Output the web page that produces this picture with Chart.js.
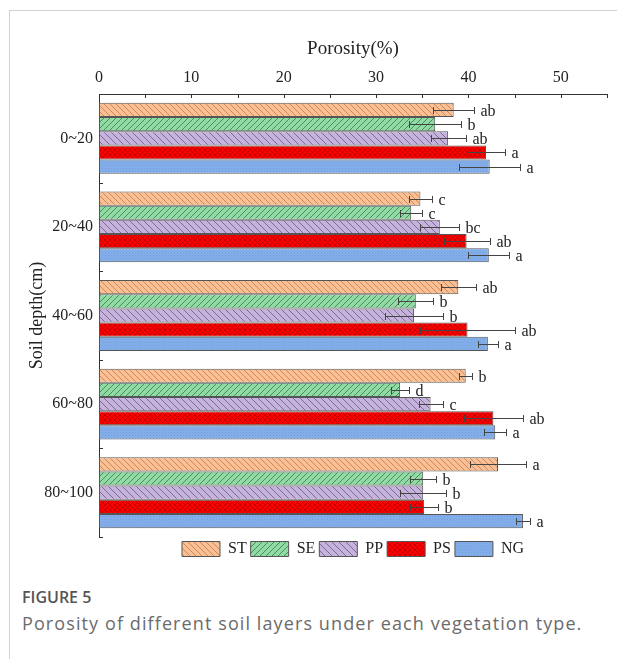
<!DOCTYPE html>
<html>
<head>
<meta charset="utf-8">
<script src="https://cdn.jsdelivr.net/npm/chart.js@4"></script>
<style>
body { margin: 0; background: #fff; }
#card { position: absolute; left: 9px; top: 10px; width: 620px; height: 660px; border-top: 1px solid #d2d2d2; border-left: 1px solid #d2d2d2; }
#draw { position: absolute; left: 0; top: 0; }
.fig { position: absolute; left: 22px; top: 586px; font-family: "Open Sans"; font-weight: 600; font-size: 16px; color: #555; }
.cap { position: absolute; left: 22px; top: 611px; font-family: "Open Sans"; font-size: 18px; letter-spacing: 1.1px; color: #6b6b6b; }
</style>
</head>
<body>
<div id="card"></div>
<canvas id="draw" width="617" height="570"></canvas>
<div class="fig">FIGURE 5</div>
<div class="cap">Porosity of different soil layers under each vegetation type.</div>
<script>
const depthLabels = ["0~20", "20~40", "40~60", "60~80", "80~100"];
const xTicks = [0, 10, 20, 30, 40, 50];

const stValues = [38.4, 34.8, 38.9, 39.7, 43.2];
const stErrors = [2.2, 1.2, 1.9, 0.7, 3.0];
const stLetters = ["ab", "c", "ab", "b", "a"];

const seValues = [36.4, 33.8, 34.3, 32.6, 35.1];
const seErrors = [2.8, 1.2, 1.9, 1.0, 1.4];
const seLetters = ["b", "c", "b", "d", "b"];

const ppValues = [37.8, 36.9, 34.1, 35.9, 35.1];
const ppErrors = [1.9, 2.1, 3.1, 1.3, 2.5];
const ppLetters = ["ab", "bc", "b", "c", "b"];

const psValues = [41.9, 39.8, 39.9, 42.7, 35.2];
const psErrors = [2.1, 2.5, 5.1, 3.2, 1.5];
const psLetters = ["a", "ab", "ab", "ab", "b"];

const ngValues = [42.3, 42.2, 42.1, 42.9, 45.9];
const ngErrors = [3.3, 2.2, 1.1, 1.2, 0.8];
const ngLetters = ["a", "a", "a", "a", "a"];

const canvas = document.getElementById("draw");
const mainCtx = canvas.getContext("2d");

// hatch fills like the original figure
function makePattern(bg, line, type, size) {
	const c = document.createElement("canvas");
	c.width = size;
	c.height = size;
	const g = c.getContext("2d");
	g.fillStyle = bg;
	g.fillRect(0, 0, size, size);
	g.strokeStyle = line;
	g.lineWidth = 1;
	g.beginPath();
	if (type === "back" || type === "cross") {
		for (const k of [-size, 0, size]) { g.moveTo(k, 0); g.lineTo(k + size, size); }
	}
	if (type === "fwd" || type === "cross") {
		for (const k of [-size, 0, size]) { g.moveTo(k, size); g.lineTo(k + size, 0); }
	}
	g.stroke();
	if (type === "dots") {
		g.fillStyle = line;
		g.fillRect(0, 0, 1, 1);
		g.fillRect(size / 2, size / 2, 1, 1);
	}
	return mainCtx.createPattern(c, "repeat");
}

const font16 = { family: "Liberation Serif", size: 16 };

const errorBars = {
	id: "errorBars",
	afterDatasetsDraw(chart) {
		const ctx = chart.ctx;
		const x = chart.scales.x;
		ctx.save();
		ctx.strokeStyle = "#444";
		ctx.lineWidth = 1;
		ctx.fillStyle = "#222";
		ctx.font = '16px "Liberation Serif"';
		ctx.textBaseline = "middle";
		chart.data.datasets.forEach((ds, di) => {
			chart.getDatasetMeta(di).data.forEach((bar, i) => {
				const v = ds.data[i], e = ds.errors[i];
				const x0 = Math.round(x.getPixelForValue(v - e)) + 0.5;
				const x1 = Math.round(x.getPixelForValue(v + e)) + 0.5;
				const y = Math.round(bar.y) + 0.5;
				ctx.beginPath();
				ctx.moveTo(x0, y); ctx.lineTo(x1, y);
				ctx.moveTo(x0, y - 3.5); ctx.lineTo(x0, y + 3.5);
				ctx.moveTo(x1, y - 3.5); ctx.lineTo(x1, y + 3.5);
				ctx.stroke();
				ctx.fillText(ds.letters[i], x1 + 6, y + 1);
			});
		});
		ctx.restore();
	}
};

// small inward ticks on both axes
const innerTicks = {
	id: "innerTicks",
	afterDraw(chart) {
		const ctx = chart.ctx;
		const x = chart.scales.x, y = chart.scales.y;
		const area = chart.chartArea;
		ctx.save();
		ctx.strokeStyle = "#333";
		ctx.lineWidth = 1;
		ctx.beginPath();
		for (let v = 0; v <= 55; v += 5) {
			const px = Math.round(x.getPixelForValue(v)) + 0.5;
			ctx.moveTo(px, area.top);
			ctx.lineTo(px, area.top + 4);
		}
		for (let i = 0; i <= depthLabels.length; i++) {
			const py = Math.round(y.getPixelForValue(i - 0.5)) + 0.5;
			ctx.moveTo(area.left, py);
			ctx.lineTo(area.left + 4, py);
		}
		ctx.stroke();
		ctx.restore();
	}
};

const legendCenter = {
	id: "legendCenter",
	afterLayout(chart) {
		const l = chart.legend;
		if (!l) return;
		l.left = chart.chartArea.left;
		l.right = chart.chartArea.right;
		l.width = l.right - l.left;
	}
};

const config = {
	type: "bar",
	data: {
		labels: depthLabels,
		datasets: [
			{ label: "ST", data: stValues, errors: stErrors, letters: stLetters, backgroundColor: makePattern("#f8c096", "#d8864e", "back", 6) },
			{ label: "SE", data: seValues, errors: seErrors, letters: seLetters, backgroundColor: makePattern("#92d9a6", "#3d9459", "fwd", 6) },
			{ label: "PP", data: ppValues, errors: ppErrors, letters: ppLetters, backgroundColor: makePattern("#c6b3dc", "#7c6a98", "back", 7) },
			{ label: "PS", data: psValues, errors: psErrors, letters: psLetters, backgroundColor: makePattern("#ff0000", "#c40000", "cross", 5) },
			{ label: "NG", data: ngValues, errors: ngErrors, letters: ngLetters, backgroundColor: makePattern("#86b0ec", "#6e9ad8", "dots", 3) },
		],
	},
	options: {
		indexAxis: "y",
		responsive: false,
		animation: false,
		devicePixelRatio: 1,
		layout: { padding: { top: 0, left: 0, right: 10, bottom: 3 } },
		datasets: {
			bar: { categoryPercentage: 0.8, barPercentage: 1.0, borderWidth: 1, borderColor: "#555", borderSkipped: false },
		},
		plugins: {
			tooltip: { enabled: false },
			legend: {
				position: "bottom",
				labels: { boxWidth: 38, boxHeight: 15, padding: 4, color: "#222", font: font16 },
			},
		},
		scales: {
			x: {
				position: "top",
				min: 0,
				max: 55,
				grid: { display: false, drawTicks: false },
				border: { display: true, color: "#333", width: 1 },
				ticks: {
					stepSize: 5,
					autoSkip: false,
					maxRotation: 0,
					padding: 7,
					color: "#222",
					font: font16,
					callback: function (value) {
						return xTicks.includes(value) ? String(value) : "";
					},
				},
				title: { display: true, text: "Porosity(%)", color: "#222", font: { family: "Liberation Serif", size: 19 }, padding: { top: 38, bottom: 0 } },
				afterFit: function (scale) { scale.height = 94; },
			},
			y: {
				grid: { display: false, drawTicks: false },
				border: { display: true, color: "#333", width: 1 },
				ticks: { padding: 6, color: "#222", font: font16 },
				title: { display: true, text: "Soil depth(cm)", color: "#222", font: { family: "Liberation Serif", size: 18 }, padding: { top: 26, bottom: 0 } },
				afterFit: function (scale) { scale.width = 99; },
			},
		},
	},
	plugins: [errorBars, innerTicks, legendCenter],
};

let myChart = new Chart(mainCtx, config);
</script>
</body>
</html>
